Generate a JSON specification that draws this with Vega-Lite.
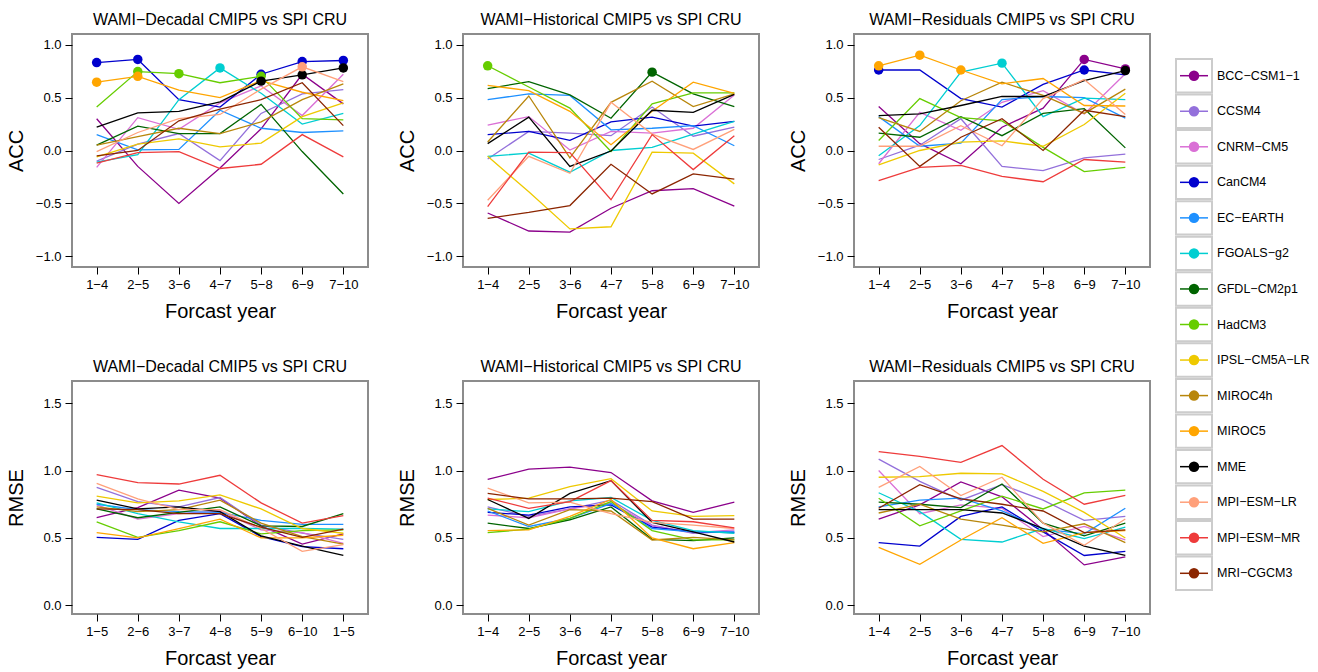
{
"$schema":"https://vega.github.io/schema/vega-lite/v6.json",
"padding":{"left":5,"top":11,"right":0,"bottom":0},
"config":{
 "font":"Liberation Sans",
 "view":{"stroke":"#8c8c8c","strokeWidth":2},
 "axis":{"domain":false,"grid":false,"tickColor":"black","tickSize":7,"tickWidth":1,"labelColor":"black","labelFontSize":13,"labelPadding":4,"titleFontSize":20,"titleFontWeight":"normal","titleColor":"black","labelFont":"Liberation Sans","titleFont":"Liberation Sans"},
 "axisY":{"minExtent":36,"maxExtent":36,"titlePadding":10},
 "axisX":{"titlePadding":10,"labelAngle":0,"labelOverlap":false},
 "title":{"fontSize":16,"fontWeight":"normal","color":"black","offset":6,"font":"Liberation Sans"}
},
"datasets":{
"leg":[{"m":"BCC−CSM1−1"},{"m":"CCSM4"},{"m":"CNRM−CM5"},{"m":"CanCM4"},{"m":"EC−EARTH"},{"m":"FGOALS−g2"},{"m":"GFDL−CM2p1"},{"m":"HadCM3"},{"m":"IPSL−CM5A−LR"},{"m":"MIROC4h"},{"m":"MIROC5"},{"m":"MME"},{"m":"MPI−ESM−LR"},{"m":"MPI−ESM−MR"},{"m":"MRI−CGCM3"}],
"d":[
{"p":"a","m":"BCC−CSM1−1","i":1,"v":0.30},{"p":"a","m":"BCC−CSM1−1","i":2,"v":-0.15},{"p":"a","m":"BCC−CSM1−1","i":3,"v":-0.50},{"p":"a","m":"BCC−CSM1−1","i":4,"v":-0.165},{"p":"a","m":"BCC−CSM1−1","i":5,"v":0.205},{"p":"a","m":"BCC−CSM1−1","i":6,"v":0.72},{"p":"a","m":"BCC−CSM1−1","i":7,"v":0.44},
{"p":"a","m":"CCSM4","i":1,"v":-0.10},{"p":"a","m":"CCSM4","i":2,"v":0.06},{"p":"a","m":"CCSM4","i":3,"v":0.16},{"p":"a","m":"CCSM4","i":4,"v":-0.095},{"p":"a","m":"CCSM4","i":5,"v":0.35},{"p":"a","m":"CCSM4","i":6,"v":0.535},{"p":"a","m":"CCSM4","i":7,"v":0.575},
{"p":"a","m":"CNRM−CM5","i":1,"v":-0.16},{"p":"a","m":"CNRM−CM5","i":2,"v":0.31},{"p":"a","m":"CNRM−CM5","i":3,"v":0.20},{"p":"a","m":"CNRM−CM5","i":4,"v":0.45},{"p":"a","m":"CNRM−CM5","i":5,"v":0.61},{"p":"a","m":"CNRM−CM5","i":6,"v":0.33},{"p":"a","m":"CNRM−CM5","i":7,"v":0.72},
{"p":"a","m":"CanCM4","i":1,"v":0.83,"s":1},{"p":"a","m":"CanCM4","i":2,"v":0.86,"s":1},{"p":"a","m":"CanCM4","i":3,"v":0.48},{"p":"a","m":"CanCM4","i":4,"v":0.41},{"p":"a","m":"CanCM4","i":5,"v":0.72,"s":1},{"p":"a","m":"CanCM4","i":6,"v":0.84,"s":1},{"p":"a","m":"CanCM4","i":7,"v":0.85,"s":1},
{"p":"a","m":"EC−EARTH","i":1,"v":0.15},{"p":"a","m":"EC−EARTH","i":2,"v":0.005},{"p":"a","m":"EC−EARTH","i":3,"v":0.01},{"p":"a","m":"EC−EARTH","i":4,"v":0.38},{"p":"a","m":"EC−EARTH","i":5,"v":0.21},{"p":"a","m":"EC−EARTH","i":6,"v":0.17},{"p":"a","m":"EC−EARTH","i":7,"v":0.185},
{"p":"a","m":"FGOALS−g2","i":1,"v":-0.11},{"p":"a","m":"FGOALS−g2","i":2,"v":-0.04},{"p":"a","m":"FGOALS−g2","i":3,"v":0.48},{"p":"a","m":"FGOALS−g2","i":4,"v":0.78,"s":1},{"p":"a","m":"FGOALS−g2","i":5,"v":0.54},{"p":"a","m":"FGOALS−g2","i":6,"v":0.25},{"p":"a","m":"FGOALS−g2","i":7,"v":0.35},
{"p":"a","m":"GFDL−CM2p1","i":1,"v":0.05},{"p":"a","m":"GFDL−CM2p1","i":2,"v":0.23},{"p":"a","m":"GFDL−CM2p1","i":3,"v":0.16},{"p":"a","m":"GFDL−CM2p1","i":4,"v":0.16},{"p":"a","m":"GFDL−CM2p1","i":5,"v":0.435},{"p":"a","m":"GFDL−CM2p1","i":6,"v":-0.01},{"p":"a","m":"GFDL−CM2p1","i":7,"v":-0.41},
{"p":"a","m":"HadCM3","i":1,"v":0.41},{"p":"a","m":"HadCM3","i":2,"v":0.745,"s":1},{"p":"a","m":"HadCM3","i":3,"v":0.725,"s":1},{"p":"a","m":"HadCM3","i":4,"v":0.64},{"p":"a","m":"HadCM3","i":5,"v":0.70,"s":1},{"p":"a","m":"HadCM3","i":6,"v":0.30},{"p":"a","m":"HadCM3","i":7,"v":0.29},
{"p":"a","m":"IPSL−CM5A−LR","i":1,"v":-0.06},{"p":"a","m":"IPSL−CM5A−LR","i":2,"v":0.06},{"p":"a","m":"IPSL−CM5A−LR","i":3,"v":0.11},{"p":"a","m":"IPSL−CM5A−LR","i":4,"v":0.035},{"p":"a","m":"IPSL−CM5A−LR","i":5,"v":0.07},{"p":"a","m":"IPSL−CM5A−LR","i":6,"v":0.32},{"p":"a","m":"IPSL−CM5A−LR","i":7,"v":0.45},
{"p":"a","m":"MIROC4h","i":1,"v":0.05},{"p":"a","m":"MIROC4h","i":2,"v":0.13},{"p":"a","m":"MIROC4h","i":3,"v":0.21},{"p":"a","m":"MIROC4h","i":4,"v":0.16},{"p":"a","m":"MIROC4h","i":5,"v":0.27},{"p":"a","m":"MIROC4h","i":6,"v":0.48},{"p":"a","m":"MIROC4h","i":7,"v":0.63},
{"p":"a","m":"MIROC5","i":1,"v":0.645,"s":1},{"p":"a","m":"MIROC5","i":2,"v":0.70,"s":1},{"p":"a","m":"MIROC5","i":3,"v":0.57},{"p":"a","m":"MIROC5","i":4,"v":0.50},{"p":"a","m":"MIROC5","i":5,"v":0.66},{"p":"a","m":"MIROC5","i":6,"v":0.55},{"p":"a","m":"MIROC5","i":7,"v":0.47},
{"p":"a","m":"MME","i":1,"v":0.22},{"p":"a","m":"MME","i":2,"v":0.355},{"p":"a","m":"MME","i":3,"v":0.37},{"p":"a","m":"MME","i":4,"v":0.46},{"p":"a","m":"MME","i":5,"v":0.655,"s":1},{"p":"a","m":"MME","i":6,"v":0.715,"s":1},{"p":"a","m":"MME","i":7,"v":0.78,"s":1},
{"p":"a","m":"MPI−ESM−LR","i":1,"v":-0.01},{"p":"a","m":"MPI−ESM−LR","i":2,"v":0.17},{"p":"a","m":"MPI−ESM−LR","i":3,"v":0.30},{"p":"a","m":"MPI−ESM−LR","i":4,"v":0.34},{"p":"a","m":"MPI−ESM−LR","i":5,"v":0.58},{"p":"a","m":"MPI−ESM−LR","i":6,"v":0.79,"s":1},{"p":"a","m":"MPI−ESM−LR","i":7,"v":0.65},
{"p":"a","m":"MPI−ESM−MR","i":1,"v":-0.12},{"p":"a","m":"MPI−ESM−MR","i":2,"v":-0.02},{"p":"a","m":"MPI−ESM−MR","i":3,"v":-0.01},{"p":"a","m":"MPI−ESM−MR","i":4,"v":-0.17},{"p":"a","m":"MPI−ESM−MR","i":5,"v":-0.13},{"p":"a","m":"MPI−ESM−MR","i":6,"v":0.15},{"p":"a","m":"MPI−ESM−MR","i":7,"v":-0.06},
{"p":"a","m":"MRI−CGCM3","i":1,"v":-0.05},{"p":"a","m":"MRI−CGCM3","i":2,"v":0.0},{"p":"a","m":"MRI−CGCM3","i":3,"v":0.28},{"p":"a","m":"MRI−CGCM3","i":4,"v":0.39},{"p":"a","m":"MRI−CGCM3","i":5,"v":0.48},{"p":"a","m":"MRI−CGCM3","i":6,"v":0.64},{"p":"a","m":"MRI−CGCM3","i":7,"v":0.235},

{"p":"b","m":"BCC−CSM1−1","i":1,"v":-0.59},{"p":"b","m":"BCC−CSM1−1","i":2,"v":-0.76},{"p":"b","m":"BCC−CSM1−1","i":3,"v":-0.77},{"p":"b","m":"BCC−CSM1−1","i":4,"v":-0.545},{"p":"b","m":"BCC−CSM1−1","i":5,"v":-0.38},{"p":"b","m":"BCC−CSM1−1","i":6,"v":-0.36},{"p":"b","m":"BCC−CSM1−1","i":7,"v":-0.525},
{"p":"b","m":"CCSM4","i":1,"v":-0.08},{"p":"b","m":"CCSM4","i":2,"v":0.18},{"p":"b","m":"CCSM4","i":3,"v":0.165},{"p":"b","m":"CCSM4","i":4,"v":0.14},{"p":"b","m":"CCSM4","i":5,"v":0.41},{"p":"b","m":"CCSM4","i":6,"v":0.135},{"p":"b","m":"CCSM4","i":7,"v":0.22},
{"p":"b","m":"CNRM−CM5","i":1,"v":0.24},{"p":"b","m":"CNRM−CM5","i":2,"v":0.32},{"p":"b","m":"CNRM−CM5","i":3,"v":0.005},{"p":"b","m":"CNRM−CM5","i":4,"v":0.18},{"p":"b","m":"CNRM−CM5","i":5,"v":0.165},{"p":"b","m":"CNRM−CM5","i":6,"v":0.21},{"p":"b","m":"CNRM−CM5","i":7,"v":0.525},
{"p":"b","m":"CanCM4","i":1,"v":0.15},{"p":"b","m":"CanCM4","i":2,"v":0.18},{"p":"b","m":"CanCM4","i":3,"v":0.095},{"p":"b","m":"CanCM4","i":4,"v":0.27},{"p":"b","m":"CanCM4","i":5,"v":0.315},{"p":"b","m":"CanCM4","i":6,"v":0.23},{"p":"b","m":"CanCM4","i":7,"v":0.275},
{"p":"b","m":"EC−EARTH","i":1,"v":0.48},{"p":"b","m":"EC−EARTH","i":2,"v":0.535},{"p":"b","m":"EC−EARTH","i":3,"v":0.52},{"p":"b","m":"EC−EARTH","i":4,"v":0.195},{"p":"b","m":"EC−EARTH","i":5,"v":0.21},{"p":"b","m":"EC−EARTH","i":6,"v":0.235},{"p":"b","m":"EC−EARTH","i":7,"v":0.045},
{"p":"b","m":"FGOALS−g2","i":1,"v":-0.055},{"p":"b","m":"FGOALS−g2","i":2,"v":-0.025},{"p":"b","m":"FGOALS−g2","i":3,"v":-0.205},{"p":"b","m":"FGOALS−g2","i":4,"v":0.0},{"p":"b","m":"FGOALS−g2","i":5,"v":0.03},{"p":"b","m":"FGOALS−g2","i":6,"v":0.155},{"p":"b","m":"FGOALS−g2","i":7,"v":0.275},
{"p":"b","m":"GFDL−CM2p1","i":1,"v":0.585},{"p":"b","m":"GFDL−CM2p1","i":2,"v":0.65},{"p":"b","m":"GFDL−CM2p1","i":3,"v":0.525},{"p":"b","m":"GFDL−CM2p1","i":4,"v":0.305},{"p":"b","m":"GFDL−CM2p1","i":5,"v":0.74,"s":1},{"p":"b","m":"GFDL−CM2p1","i":6,"v":0.535},{"p":"b","m":"GFDL−CM2p1","i":7,"v":0.415},
{"p":"b","m":"HadCM3","i":1,"v":0.80,"s":1},{"p":"b","m":"HadCM3","i":2,"v":0.60},{"p":"b","m":"HadCM3","i":3,"v":0.40},{"p":"b","m":"HadCM3","i":4,"v":-0.01},{"p":"b","m":"HadCM3","i":5,"v":0.44},{"p":"b","m":"HadCM3","i":6,"v":0.545},{"p":"b","m":"HadCM3","i":7,"v":0.545},
{"p":"b","m":"IPSL−CM5A−LR","i":1,"v":-0.055},{"p":"b","m":"IPSL−CM5A−LR","i":2,"v":-0.39},{"p":"b","m":"IPSL−CM5A−LR","i":3,"v":-0.74},{"p":"b","m":"IPSL−CM5A−LR","i":4,"v":-0.72},{"p":"b","m":"IPSL−CM5A−LR","i":5,"v":-0.015},{"p":"b","m":"IPSL−CM5A−LR","i":6,"v":-0.025},{"p":"b","m":"IPSL−CM5A−LR","i":7,"v":-0.315},
{"p":"b","m":"MIROC4h","i":1,"v":0.08},{"p":"b","m":"MIROC4h","i":2,"v":0.515},{"p":"b","m":"MIROC4h","i":3,"v":-0.07},{"p":"b","m":"MIROC4h","i":4,"v":0.455},{"p":"b","m":"MIROC4h","i":5,"v":0.655},{"p":"b","m":"MIROC4h","i":6,"v":0.415},{"p":"b","m":"MIROC4h","i":7,"v":0.535},
{"p":"b","m":"MIROC5","i":1,"v":0.615},{"p":"b","m":"MIROC5","i":2,"v":0.565},{"p":"b","m":"MIROC5","i":3,"v":0.37},{"p":"b","m":"MIROC5","i":4,"v":0.055},{"p":"b","m":"MIROC5","i":5,"v":0.37},{"p":"b","m":"MIROC5","i":6,"v":0.645},{"p":"b","m":"MIROC5","i":7,"v":0.54},
{"p":"b","m":"MME","i":1,"v":0.065},{"p":"b","m":"MME","i":2,"v":0.315},{"p":"b","m":"MME","i":3,"v":-0.15},{"p":"b","m":"MME","i":4,"v":-0.005},{"p":"b","m":"MME","i":5,"v":0.38},{"p":"b","m":"MME","i":6,"v":0.36},{"p":"b","m":"MME","i":7,"v":0.53},
{"p":"b","m":"MPI−ESM−LR","i":1,"v":-0.47},{"p":"b","m":"MPI−ESM−LR","i":2,"v":-0.055},{"p":"b","m":"MPI−ESM−LR","i":3,"v":-0.215},{"p":"b","m":"MPI−ESM−LR","i":4,"v":0.455},{"p":"b","m":"MPI−ESM−LR","i":5,"v":0.155},{"p":"b","m":"MPI−ESM−LR","i":6,"v":0.01},{"p":"b","m":"MPI−ESM−LR","i":7,"v":0.20},
{"p":"b","m":"MPI−ESM−MR","i":1,"v":-0.53},{"p":"b","m":"MPI−ESM−MR","i":2,"v":-0.015},{"p":"b","m":"MPI−ESM−MR","i":3,"v":-0.02},{"p":"b","m":"MPI−ESM−MR","i":4,"v":-0.465},{"p":"b","m":"MPI−ESM−MR","i":5,"v":0.15},{"p":"b","m":"MPI−ESM−MR","i":6,"v":-0.18},{"p":"b","m":"MPI−ESM−MR","i":7,"v":0.14},
{"p":"b","m":"MRI−CGCM3","i":1,"v":-0.64},{"p":"b","m":"MRI−CGCM3","i":2,"v":-0.585},{"p":"b","m":"MRI−CGCM3","i":3,"v":-0.52},{"p":"b","m":"MRI−CGCM3","i":4,"v":-0.13},{"p":"b","m":"MRI−CGCM3","i":5,"v":-0.41},{"p":"b","m":"MRI−CGCM3","i":6,"v":-0.22},{"p":"b","m":"MRI−CGCM3","i":7,"v":-0.27},

{"p":"c","m":"BCC−CSM1−1","i":1,"v":0.415},{"p":"c","m":"BCC−CSM1−1","i":2,"v":0.065},{"p":"c","m":"BCC−CSM1−1","i":3,"v":-0.125},{"p":"c","m":"BCC−CSM1−1","i":4,"v":0.22},{"p":"c","m":"BCC−CSM1−1","i":5,"v":0.40},{"p":"c","m":"BCC−CSM1−1","i":6,"v":0.86,"s":1},{"p":"c","m":"BCC−CSM1−1","i":7,"v":0.77,"s":1},
{"p":"c","m":"CCSM4","i":1,"v":-0.085},{"p":"c","m":"CCSM4","i":2,"v":0.05},{"p":"c","m":"CCSM4","i":3,"v":0.30},{"p":"c","m":"CCSM4","i":4,"v":-0.15},{"p":"c","m":"CCSM4","i":5,"v":-0.19},{"p":"c","m":"CCSM4","i":6,"v":-0.07},{"p":"c","m":"CCSM4","i":7,"v":-0.035},
{"p":"c","m":"CNRM−CM5","i":1,"v":-0.125},{"p":"c","m":"CNRM−CM5","i":2,"v":0.36},{"p":"c","m":"CNRM−CM5","i":3,"v":0.19},{"p":"c","m":"CNRM−CM5","i":4,"v":0.455},{"p":"c","m":"CNRM−CM5","i":5,"v":0.565},{"p":"c","m":"CNRM−CM5","i":6,"v":0.345},{"p":"c","m":"CNRM−CM5","i":7,"v":0.725},
{"p":"c","m":"CanCM4","i":1,"v":0.76,"s":1},{"p":"c","m":"CanCM4","i":2,"v":0.76},{"p":"c","m":"CanCM4","i":3,"v":0.49},{"p":"c","m":"CanCM4","i":4,"v":0.41},{"p":"c","m":"CanCM4","i":5,"v":0.625},{"p":"c","m":"CanCM4","i":6,"v":0.76,"s":1},{"p":"c","m":"CanCM4","i":7,"v":0.715},
{"p":"c","m":"EC−EARTH","i":1,"v":0.32},{"p":"c","m":"EC−EARTH","i":2,"v":0.04},{"p":"c","m":"EC−EARTH","i":3,"v":0.07},{"p":"c","m":"EC−EARTH","i":4,"v":0.48},{"p":"c","m":"EC−EARTH","i":5,"v":0.51},{"p":"c","m":"EC−EARTH","i":6,"v":0.50},{"p":"c","m":"EC−EARTH","i":7,"v":0.305},
{"p":"c","m":"FGOALS−g2","i":1,"v":-0.05},{"p":"c","m":"FGOALS−g2","i":2,"v":0.235},{"p":"c","m":"FGOALS−g2","i":3,"v":0.74},{"p":"c","m":"FGOALS−g2","i":4,"v":0.825,"s":1},{"p":"c","m":"FGOALS−g2","i":5,"v":0.32},{"p":"c","m":"FGOALS−g2","i":6,"v":0.495},{"p":"c","m":"FGOALS−g2","i":7,"v":0.48},
{"p":"c","m":"GFDL−CM2p1","i":1,"v":0.165},{"p":"c","m":"GFDL−CM2p1","i":2,"v":0.125},{"p":"c","m":"GFDL−CM2p1","i":3,"v":0.32},{"p":"c","m":"GFDL−CM2p1","i":4,"v":0.14},{"p":"c","m":"GFDL−CM2p1","i":5,"v":0.35},{"p":"c","m":"GFDL−CM2p1","i":6,"v":0.395},{"p":"c","m":"GFDL−CM2p1","i":7,"v":0.025},
{"p":"c","m":"HadCM3","i":1,"v":0.095},{"p":"c","m":"HadCM3","i":2,"v":0.49},{"p":"c","m":"HadCM3","i":3,"v":0.31},{"p":"c","m":"HadCM3","i":4,"v":0.28},{"p":"c","m":"HadCM3","i":5,"v":0.03},{"p":"c","m":"HadCM3","i":6,"v":-0.20},{"p":"c","m":"HadCM3","i":7,"v":-0.16},
{"p":"c","m":"IPSL−CM5A−LR","i":1,"v":-0.135},{"p":"c","m":"IPSL−CM5A−LR","i":2,"v":0.0},{"p":"c","m":"IPSL−CM5A−LR","i":3,"v":0.08},{"p":"c","m":"IPSL−CM5A−LR","i":4,"v":0.09},{"p":"c","m":"IPSL−CM5A−LR","i":5,"v":0.04},{"p":"c","m":"IPSL−CM5A−LR","i":6,"v":0.245},{"p":"c","m":"IPSL−CM5A−LR","i":7,"v":0.54},
{"p":"c","m":"MIROC4h","i":1,"v":0.31},{"p":"c","m":"MIROC4h","i":2,"v":0.18},{"p":"c","m":"MIROC4h","i":3,"v":0.47},{"p":"c","m":"MIROC4h","i":4,"v":0.645},{"p":"c","m":"MIROC4h","i":5,"v":0.52},{"p":"c","m":"MIROC4h","i":6,"v":0.35},{"p":"c","m":"MIROC4h","i":7,"v":0.58},
{"p":"c","m":"MIROC5","i":1,"v":0.80,"s":1},{"p":"c","m":"MIROC5","i":2,"v":0.90,"s":1},{"p":"c","m":"MIROC5","i":3,"v":0.76,"s":1},{"p":"c","m":"MIROC5","i":4,"v":0.63},{"p":"c","m":"MIROC5","i":5,"v":0.68},{"p":"c","m":"MIROC5","i":6,"v":0.425},{"p":"c","m":"MIROC5","i":7,"v":0.42},
{"p":"c","m":"MME","i":1,"v":0.33},{"p":"c","m":"MME","i":2,"v":0.345},{"p":"c","m":"MME","i":3,"v":0.425},{"p":"c","m":"MME","i":4,"v":0.51},{"p":"c","m":"MME","i":5,"v":0.51},{"p":"c","m":"MME","i":6,"v":0.66},{"p":"c","m":"MME","i":7,"v":0.755,"s":1},
{"p":"c","m":"MPI−ESM−LR","i":1,"v":0.04},{"p":"c","m":"MPI−ESM−LR","i":2,"v":0.04},{"p":"c","m":"MPI−ESM−LR","i":3,"v":0.235},{"p":"c","m":"MPI−ESM−LR","i":4,"v":0.045},{"p":"c","m":"MPI−ESM−LR","i":5,"v":0.49},{"p":"c","m":"MPI−ESM−LR","i":6,"v":0.67},{"p":"c","m":"MPI−ESM−LR","i":7,"v":0.34},
{"p":"c","m":"MPI−ESM−MR","i":1,"v":-0.285},{"p":"c","m":"MPI−ESM−MR","i":2,"v":-0.16},{"p":"c","m":"MPI−ESM−MR","i":3,"v":-0.14},{"p":"c","m":"MPI−ESM−MR","i":4,"v":-0.245},{"p":"c","m":"MPI−ESM−MR","i":5,"v":-0.295},{"p":"c","m":"MPI−ESM−MR","i":6,"v":-0.085},{"p":"c","m":"MPI−ESM−MR","i":7,"v":-0.11},
{"p":"c","m":"MRI−CGCM3","i":1,"v":0.22},{"p":"c","m":"MRI−CGCM3","i":2,"v":-0.15},{"p":"c","m":"MRI−CGCM3","i":3,"v":0.125},{"p":"c","m":"MRI−CGCM3","i":4,"v":0.30},{"p":"c","m":"MRI−CGCM3","i":5,"v":0.0},{"p":"c","m":"MRI−CGCM3","i":6,"v":0.38},{"p":"c","m":"MRI−CGCM3","i":7,"v":0.32},

{"p":"d","m":"BCC−CSM1−1","i":1,"v":0.65},{"p":"d","m":"BCC−CSM1−1","i":2,"v":0.725},{"p":"d","m":"BCC−CSM1−1","i":3,"v":0.855},{"p":"d","m":"BCC−CSM1−1","i":4,"v":0.795},{"p":"d","m":"BCC−CSM1−1","i":5,"v":0.59},{"p":"d","m":"BCC−CSM1−1","i":6,"v":0.455},{"p":"d","m":"BCC−CSM1−1","i":7,"v":0.53},
{"p":"d","m":"CCSM4","i":1,"v":0.875},{"p":"d","m":"CCSM4","i":2,"v":0.77},{"p":"d","m":"CCSM4","i":3,"v":0.73},{"p":"d","m":"CCSM4","i":4,"v":0.80},{"p":"d","m":"CCSM4","i":5,"v":0.595},{"p":"d","m":"CCSM4","i":6,"v":0.535},{"p":"d","m":"CCSM4","i":7,"v":0.49},
{"p":"d","m":"CNRM−CM5","i":1,"v":0.745},{"p":"d","m":"CNRM−CM5","i":2,"v":0.64},{"p":"d","m":"CNRM−CM5","i":3,"v":0.68},{"p":"d","m":"CNRM−CM5","i":4,"v":0.70},{"p":"d","m":"CNRM−CM5","i":5,"v":0.56},{"p":"d","m":"CNRM−CM5","i":6,"v":0.54},{"p":"d","m":"CNRM−CM5","i":7,"v":0.46},
{"p":"d","m":"CanCM4","i":1,"v":0.505},{"p":"d","m":"CanCM4","i":2,"v":0.49},{"p":"d","m":"CanCM4","i":3,"v":0.63},{"p":"d","m":"CanCM4","i":4,"v":0.68},{"p":"d","m":"CanCM4","i":5,"v":0.51},{"p":"d","m":"CanCM4","i":6,"v":0.435},{"p":"d","m":"CanCM4","i":7,"v":0.42},
{"p":"d","m":"EC−EARTH","i":1,"v":0.75},{"p":"d","m":"EC−EARTH","i":2,"v":0.71},{"p":"d","m":"EC−EARTH","i":3,"v":0.695},{"p":"d","m":"EC−EARTH","i":4,"v":0.69},{"p":"d","m":"EC−EARTH","i":5,"v":0.63},{"p":"d","m":"EC−EARTH","i":6,"v":0.60},{"p":"d","m":"EC−EARTH","i":7,"v":0.60},
{"p":"d","m":"FGOALS−g2","i":1,"v":0.76},{"p":"d","m":"FGOALS−g2","i":2,"v":0.68},{"p":"d","m":"FGOALS−g2","i":3,"v":0.62},{"p":"d","m":"FGOALS−g2","i":4,"v":0.57},{"p":"d","m":"FGOALS−g2","i":5,"v":0.57},{"p":"d","m":"FGOALS−g2","i":6,"v":0.57},{"p":"d","m":"FGOALS−g2","i":7,"v":0.565},
{"p":"d","m":"GFDL−CM2p1","i":1,"v":0.715},{"p":"d","m":"GFDL−CM2p1","i":2,"v":0.65},{"p":"d","m":"GFDL−CM2p1","i":3,"v":0.69},{"p":"d","m":"GFDL−CM2p1","i":4,"v":0.73},{"p":"d","m":"GFDL−CM2p1","i":5,"v":0.59},{"p":"d","m":"GFDL−CM2p1","i":6,"v":0.585},{"p":"d","m":"GFDL−CM2p1","i":7,"v":0.68},
{"p":"d","m":"HadCM3","i":1,"v":0.62},{"p":"d","m":"HadCM3","i":2,"v":0.505},{"p":"d","m":"HadCM3","i":3,"v":0.555},{"p":"d","m":"HadCM3","i":4,"v":0.62},{"p":"d","m":"HadCM3","i":5,"v":0.53},{"p":"d","m":"HadCM3","i":6,"v":0.555},{"p":"d","m":"HadCM3","i":7,"v":0.56},
{"p":"d","m":"IPSL−CM5A−LR","i":1,"v":0.81},{"p":"d","m":"IPSL−CM5A−LR","i":2,"v":0.76},{"p":"d","m":"IPSL−CM5A−LR","i":3,"v":0.775},{"p":"d","m":"IPSL−CM5A−LR","i":4,"v":0.82},{"p":"d","m":"IPSL−CM5A−LR","i":5,"v":0.715},{"p":"d","m":"IPSL−CM5A−LR","i":6,"v":0.57},{"p":"d","m":"IPSL−CM5A−LR","i":7,"v":0.535},
{"p":"d","m":"MIROC4h","i":1,"v":0.73},{"p":"d","m":"MIROC4h","i":2,"v":0.695},{"p":"d","m":"MIROC4h","i":3,"v":0.71},{"p":"d","m":"MIROC4h","i":4,"v":0.78},{"p":"d","m":"MIROC4h","i":5,"v":0.61},{"p":"d","m":"MIROC4h","i":6,"v":0.51},{"p":"d","m":"MIROC4h","i":7,"v":0.455},
{"p":"d","m":"MIROC5","i":1,"v":0.54},{"p":"d","m":"MIROC5","i":2,"v":0.50},{"p":"d","m":"MIROC5","i":3,"v":0.57},{"p":"d","m":"MIROC5","i":4,"v":0.64},{"p":"d","m":"MIROC5","i":5,"v":0.50},{"p":"d","m":"MIROC5","i":6,"v":0.50},{"p":"d","m":"MIROC5","i":7,"v":0.52},
{"p":"d","m":"MME","i":1,"v":0.78},{"p":"d","m":"MME","i":2,"v":0.715},{"p":"d","m":"MME","i":3,"v":0.73},{"p":"d","m":"MME","i":4,"v":0.695},{"p":"d","m":"MME","i":5,"v":0.515},{"p":"d","m":"MME","i":6,"v":0.44},{"p":"d","m":"MME","i":7,"v":0.37},
{"p":"d","m":"MPI−ESM−LR","i":1,"v":0.905},{"p":"d","m":"MPI−ESM−LR","i":2,"v":0.79},{"p":"d","m":"MPI−ESM−LR","i":3,"v":0.71},{"p":"d","m":"MPI−ESM−LR","i":4,"v":0.71},{"p":"d","m":"MPI−ESM−LR","i":5,"v":0.57},{"p":"d","m":"MPI−ESM−LR","i":6,"v":0.40},{"p":"d","m":"MPI−ESM−LR","i":7,"v":0.45},
{"p":"d","m":"MPI−ESM−MR","i":1,"v":0.97},{"p":"d","m":"MPI−ESM−MR","i":2,"v":0.91},{"p":"d","m":"MPI−ESM−MR","i":3,"v":0.90},{"p":"d","m":"MPI−ESM−MR","i":4,"v":0.965},{"p":"d","m":"MPI−ESM−MR","i":5,"v":0.76},{"p":"d","m":"MPI−ESM−MR","i":6,"v":0.61},{"p":"d","m":"MPI−ESM−MR","i":7,"v":0.665},
{"p":"d","m":"MRI−CGCM3","i":1,"v":0.715},{"p":"d","m":"MRI−CGCM3","i":2,"v":0.71},{"p":"d","m":"MRI−CGCM3","i":3,"v":0.68},{"p":"d","m":"MRI−CGCM3","i":4,"v":0.68},{"p":"d","m":"MRI−CGCM3","i":5,"v":0.58},{"p":"d","m":"MRI−CGCM3","i":6,"v":0.505},{"p":"d","m":"MRI−CGCM3","i":7,"v":0.565},

{"p":"e","m":"BCC−CSM1−1","i":1,"v":0.935},{"p":"e","m":"BCC−CSM1−1","i":2,"v":1.01},{"p":"e","m":"BCC−CSM1−1","i":3,"v":1.025},{"p":"e","m":"BCC−CSM1−1","i":4,"v":0.985},{"p":"e","m":"BCC−CSM1−1","i":5,"v":0.775},{"p":"e","m":"BCC−CSM1−1","i":6,"v":0.69},{"p":"e","m":"BCC−CSM1−1","i":7,"v":0.765},
{"p":"e","m":"CCSM4","i":1,"v":0.73},{"p":"e","m":"CCSM4","i":2,"v":0.66},{"p":"e","m":"CCSM4","i":3,"v":0.715},{"p":"e","m":"CCSM4","i":4,"v":0.78},{"p":"e","m":"CCSM4","i":5,"v":0.595},{"p":"e","m":"CCSM4","i":6,"v":0.535},{"p":"e","m":"CCSM4","i":7,"v":0.55},
{"p":"e","m":"CNRM−CM5","i":1,"v":0.67},{"p":"e","m":"CNRM−CM5","i":2,"v":0.65},{"p":"e","m":"CNRM−CM5","i":3,"v":0.715},{"p":"e","m":"CNRM−CM5","i":4,"v":0.76},{"p":"e","m":"CNRM−CM5","i":5,"v":0.59},{"p":"e","m":"CNRM−CM5","i":6,"v":0.54},{"p":"e","m":"CNRM−CM5","i":7,"v":0.56},
{"p":"e","m":"CanCM4","i":1,"v":0.69},{"p":"e","m":"CanCM4","i":2,"v":0.67},{"p":"e","m":"CanCM4","i":3,"v":0.73},{"p":"e","m":"CanCM4","i":4,"v":0.745},{"p":"e","m":"CanCM4","i":5,"v":0.58},{"p":"e","m":"CanCM4","i":6,"v":0.545},{"p":"e","m":"CanCM4","i":7,"v":0.54},
{"p":"e","m":"EC−EARTH","i":1,"v":0.70},{"p":"e","m":"EC−EARTH","i":2,"v":0.585},{"p":"e","m":"EC−EARTH","i":3,"v":0.645},{"p":"e","m":"EC−EARTH","i":4,"v":0.755},{"p":"e","m":"EC−EARTH","i":5,"v":0.57},{"p":"e","m":"EC−EARTH","i":6,"v":0.545},{"p":"e","m":"EC−EARTH","i":7,"v":0.545},
{"p":"e","m":"FGOALS−g2","i":1,"v":0.715},{"p":"e","m":"FGOALS−g2","i":2,"v":0.695},{"p":"e","m":"FGOALS−g2","i":3,"v":0.775},{"p":"e","m":"FGOALS−g2","i":4,"v":0.80},{"p":"e","m":"FGOALS−g2","i":5,"v":0.63},{"p":"e","m":"FGOALS−g2","i":6,"v":0.555},{"p":"e","m":"FGOALS−g2","i":7,"v":0.535},
{"p":"e","m":"GFDL−CM2p1","i":1,"v":0.61},{"p":"e","m":"GFDL−CM2p1","i":2,"v":0.57},{"p":"e","m":"GFDL−CM2p1","i":3,"v":0.635},{"p":"e","m":"GFDL−CM2p1","i":4,"v":0.73},{"p":"e","m":"GFDL−CM2p1","i":5,"v":0.49},{"p":"e","m":"GFDL−CM2p1","i":6,"v":0.48},{"p":"e","m":"GFDL−CM2p1","i":7,"v":0.50},
{"p":"e","m":"HadCM3","i":1,"v":0.54},{"p":"e","m":"HadCM3","i":2,"v":0.565},{"p":"e","m":"HadCM3","i":3,"v":0.645},{"p":"e","m":"HadCM3","i":4,"v":0.77},{"p":"e","m":"HadCM3","i":5,"v":0.555},{"p":"e","m":"HadCM3","i":6,"v":0.485},{"p":"e","m":"HadCM3","i":7,"v":0.485},
{"p":"e","m":"IPSL−CM5A−LR","i":1,"v":0.785},{"p":"e","m":"IPSL−CM5A−LR","i":2,"v":0.795},{"p":"e","m":"IPSL−CM5A−LR","i":3,"v":0.88},{"p":"e","m":"IPSL−CM5A−LR","i":4,"v":0.94},{"p":"e","m":"IPSL−CM5A−LR","i":5,"v":0.70},{"p":"e","m":"IPSL−CM5A−LR","i":6,"v":0.66},{"p":"e","m":"IPSL−CM5A−LR","i":7,"v":0.665},
{"p":"e","m":"MIROC4h","i":1,"v":0.72},{"p":"e","m":"MIROC4h","i":2,"v":0.595},{"p":"e","m":"MIROC4h","i":3,"v":0.71},{"p":"e","m":"MIROC4h","i":4,"v":0.70},{"p":"e","m":"MIROC4h","i":5,"v":0.485},{"p":"e","m":"MIROC4h","i":6,"v":0.505},{"p":"e","m":"MIROC4h","i":7,"v":0.485},
{"p":"e","m":"MIROC5","i":1,"v":0.555},{"p":"e","m":"MIROC5","i":2,"v":0.56},{"p":"e","m":"MIROC5","i":3,"v":0.66},{"p":"e","m":"MIROC5","i":4,"v":0.785},{"p":"e","m":"MIROC5","i":5,"v":0.50},{"p":"e","m":"MIROC5","i":6,"v":0.42},{"p":"e","m":"MIROC5","i":7,"v":0.465},
{"p":"e","m":"MME","i":1,"v":0.785},{"p":"e","m":"MME","i":2,"v":0.645},{"p":"e","m":"MME","i":3,"v":0.83},{"p":"e","m":"MME","i":4,"v":0.925},{"p":"e","m":"MME","i":5,"v":0.615},{"p":"e","m":"MME","i":6,"v":0.545},{"p":"e","m":"MME","i":7,"v":0.47},
{"p":"e","m":"MPI−ESM−LR","i":1,"v":0.87},{"p":"e","m":"MPI−ESM−LR","i":2,"v":0.76},{"p":"e","m":"MPI−ESM−LR","i":3,"v":0.765},{"p":"e","m":"MPI−ESM−LR","i":4,"v":0.68},{"p":"e","m":"MPI−ESM−LR","i":5,"v":0.615},{"p":"e","m":"MPI−ESM−LR","i":6,"v":0.595},{"p":"e","m":"MPI−ESM−LR","i":7,"v":0.57},
{"p":"e","m":"MPI−ESM−MR","i":1,"v":0.795},{"p":"e","m":"MPI−ESM−MR","i":2,"v":0.72},{"p":"e","m":"MPI−ESM−MR","i":3,"v":0.77},{"p":"e","m":"MPI−ESM−MR","i":4,"v":0.925},{"p":"e","m":"MPI−ESM−MR","i":5,"v":0.63},{"p":"e","m":"MPI−ESM−MR","i":6,"v":0.62},{"p":"e","m":"MPI−ESM−MR","i":7,"v":0.575},
{"p":"e","m":"MRI−CGCM3","i":1,"v":0.83},{"p":"e","m":"MRI−CGCM3","i":2,"v":0.79},{"p":"e","m":"MRI−CGCM3","i":3,"v":0.79},{"p":"e","m":"MRI−CGCM3","i":4,"v":0.795},{"p":"e","m":"MRI−CGCM3","i":5,"v":0.77},{"p":"e","m":"MRI−CGCM3","i":6,"v":0.64},{"p":"e","m":"MRI−CGCM3","i":7,"v":0.64},

{"p":"f","m":"BCC−CSM1−1","i":1,"v":0.64},{"p":"f","m":"BCC−CSM1−1","i":2,"v":0.745},{"p":"f","m":"BCC−CSM1−1","i":3,"v":0.915},{"p":"f","m":"BCC−CSM1−1","i":4,"v":0.805},{"p":"f","m":"BCC−CSM1−1","i":5,"v":0.56},{"p":"f","m":"BCC−CSM1−1","i":6,"v":0.30},{"p":"f","m":"BCC−CSM1−1","i":7,"v":0.36},
{"p":"f","m":"CCSM4","i":1,"v":1.085},{"p":"f","m":"CCSM4","i":2,"v":0.92},{"p":"f","m":"CCSM4","i":3,"v":0.78},{"p":"f","m":"CCSM4","i":4,"v":0.895},{"p":"f","m":"CCSM4","i":5,"v":0.78},{"p":"f","m":"CCSM4","i":6,"v":0.63},{"p":"f","m":"CCSM4","i":7,"v":0.66},
{"p":"f","m":"CNRM−CM5","i":1,"v":1.0},{"p":"f","m":"CNRM−CM5","i":2,"v":0.68},{"p":"f","m":"CNRM−CM5","i":3,"v":0.745},{"p":"f","m":"CNRM−CM5","i":4,"v":0.72},{"p":"f","m":"CNRM−CM5","i":5,"v":0.51},{"p":"f","m":"CNRM−CM5","i":6,"v":0.585},{"p":"f","m":"CNRM−CM5","i":7,"v":0.485},
{"p":"f","m":"CanCM4","i":1,"v":0.465},{"p":"f","m":"CanCM4","i":2,"v":0.44},{"p":"f","m":"CanCM4","i":3,"v":0.66},{"p":"f","m":"CanCM4","i":4,"v":0.73},{"p":"f","m":"CanCM4","i":5,"v":0.545},{"p":"f","m":"CanCM4","i":6,"v":0.37},{"p":"f","m":"CanCM4","i":7,"v":0.40},
{"p":"f","m":"EC−EARTH","i":1,"v":0.73},{"p":"f","m":"EC−EARTH","i":2,"v":0.78},{"p":"f","m":"EC−EARTH","i":3,"v":0.795},{"p":"f","m":"EC−EARTH","i":4,"v":0.70},{"p":"f","m":"EC−EARTH","i":5,"v":0.565},{"p":"f","m":"EC−EARTH","i":6,"v":0.53},{"p":"f","m":"EC−EARTH","i":7,"v":0.72},
{"p":"f","m":"FGOALS−g2","i":1,"v":0.835},{"p":"f","m":"FGOALS−g2","i":2,"v":0.695},{"p":"f","m":"FGOALS−g2","i":3,"v":0.49},{"p":"f","m":"FGOALS−g2","i":4,"v":0.47},{"p":"f","m":"FGOALS−g2","i":5,"v":0.57},{"p":"f","m":"FGOALS−g2","i":6,"v":0.495},{"p":"f","m":"FGOALS−g2","i":7,"v":0.58},
{"p":"f","m":"GFDL−CM2p1","i":1,"v":0.765},{"p":"f","m":"GFDL−CM2p1","i":2,"v":0.75},{"p":"f","m":"GFDL−CM2p1","i":3,"v":0.725},{"p":"f","m":"GFDL−CM2p1","i":4,"v":0.90},{"p":"f","m":"GFDL−CM2p1","i":5,"v":0.61},{"p":"f","m":"GFDL−CM2p1","i":6,"v":0.515},{"p":"f","m":"GFDL−CM2p1","i":7,"v":0.61},
{"p":"f","m":"HadCM3","i":1,"v":0.795},{"p":"f","m":"HadCM3","i":2,"v":0.59},{"p":"f","m":"HadCM3","i":3,"v":0.70},{"p":"f","m":"HadCM3","i":4,"v":0.81},{"p":"f","m":"HadCM3","i":5,"v":0.715},{"p":"f","m":"HadCM3","i":6,"v":0.835},{"p":"f","m":"HadCM3","i":7,"v":0.855},
{"p":"f","m":"IPSL−CM5A−LR","i":1,"v":0.95},{"p":"f","m":"IPSL−CM5A−LR","i":2,"v":0.955},{"p":"f","m":"IPSL−CM5A−LR","i":3,"v":0.98},{"p":"f","m":"IPSL−CM5A−LR","i":4,"v":0.975},{"p":"f","m":"IPSL−CM5A−LR","i":5,"v":0.845},{"p":"f","m":"IPSL−CM5A−LR","i":6,"v":0.69},{"p":"f","m":"IPSL−CM5A−LR","i":7,"v":0.50},
{"p":"f","m":"MIROC4h","i":1,"v":0.685},{"p":"f","m":"MIROC4h","i":2,"v":0.75},{"p":"f","m":"MIROC4h","i":3,"v":0.64},{"p":"f","m":"MIROC4h","i":4,"v":0.595},{"p":"f","m":"MIROC4h","i":5,"v":0.545},{"p":"f","m":"MIROC4h","i":6,"v":0.605},{"p":"f","m":"MIROC4h","i":7,"v":0.465},
{"p":"f","m":"MIROC5","i":1,"v":0.43},{"p":"f","m":"MIROC5","i":2,"v":0.305},{"p":"f","m":"MIROC5","i":3,"v":0.485},{"p":"f","m":"MIROC5","i":4,"v":0.65},{"p":"f","m":"MIROC5","i":5,"v":0.46},{"p":"f","m":"MIROC5","i":6,"v":0.54},{"p":"f","m":"MIROC5","i":7,"v":0.555},
{"p":"f","m":"MME","i":1,"v":0.71},{"p":"f","m":"MME","i":2,"v":0.71},{"p":"f","m":"MME","i":3,"v":0.71},{"p":"f","m":"MME","i":4,"v":0.685},{"p":"f","m":"MME","i":5,"v":0.57},{"p":"f","m":"MME","i":6,"v":0.44},{"p":"f","m":"MME","i":7,"v":0.37},
{"p":"f","m":"MPI−ESM−LR","i":1,"v":0.875},{"p":"f","m":"MPI−ESM−LR","i":2,"v":1.03},{"p":"f","m":"MPI−ESM−LR","i":3,"v":0.815},{"p":"f","m":"MPI−ESM−LR","i":4,"v":0.95},{"p":"f","m":"MPI−ESM−LR","i":5,"v":0.61},{"p":"f","m":"MPI−ESM−LR","i":6,"v":0.445},{"p":"f","m":"MPI−ESM−LR","i":7,"v":0.64},
{"p":"f","m":"MPI−ESM−MR","i":1,"v":1.14},{"p":"f","m":"MPI−ESM−MR","i":2,"v":1.105},{"p":"f","m":"MPI−ESM−MR","i":3,"v":1.06},{"p":"f","m":"MPI−ESM−MR","i":4,"v":1.185},{"p":"f","m":"MPI−ESM−MR","i":5,"v":0.935},{"p":"f","m":"MPI−ESM−MR","i":6,"v":0.75},{"p":"f","m":"MPI−ESM−MR","i":7,"v":0.815},
{"p":"f","m":"MRI−CGCM3","i":1,"v":0.72},{"p":"f","m":"MRI−CGCM3","i":2,"v":0.895},{"p":"f","m":"MRI−CGCM3","i":3,"v":0.79},{"p":"f","m":"MRI−CGCM3","i":4,"v":0.75},{"p":"f","m":"MRI−CGCM3","i":5,"v":0.70},{"p":"f","m":"MRI−CGCM3","i":6,"v":0.54},{"p":"f","m":"MRI−CGCM3","i":7,"v":0.56}
]},
"hconcat":[
{"vconcat":[
 {"hconcat":[
  {"width":296,"height":233,"title":"WAMI−Decadal CMIP5 vs SPI CRU","data":{"name":"d"},"transform":[{"filter":"datum.p=='a'"}],
   "encoding":{"x":{"field":"i","type":"ordinal","scale":{"type":"point","padding":0.6},"axis":{"title":"Forcast year","labelExpr":"['1−4','2−5','3−6','4−7','5−8','6−9','7−10'][datum.value-1]"}},
    "y":{"field":"v","type":"quantitative","scale":{"domain":[-1.1,1.1],"nice":false,"zero":false},"axis":{"title":"ACC","values":[-1,-0.5,0,0.5,1],"format":".1f"}},
    "color":{"field":"m","type":"nominal","legend":null,"scale":{"domain":["BCC−CSM1−1","CCSM4","CNRM−CM5","CanCM4","EC−EARTH","FGOALS−g2","GFDL−CM2p1","HadCM3","IPSL−CM5A−LR","MIROC4h","MIROC5","MME","MPI−ESM−LR","MPI−ESM−MR","MRI−CGCM3"],"range":["#8B008B","#9370DB","#DA70D6","#0000CD","#1E90FF","#00CED1","#006400","#66CD00","#EEC900","#B8860B","#FFA500","#000000","#FFA07A","#EE3B3B","#8B2500"]}}},
   "layer":[{"mark":{"type":"line","strokeWidth":1.3}},{"transform":[{"filter":"datum.s==1"}],"mark":{"type":"point","filled":true,"size":90,"opacity":1}}]},
  {"width":296,"height":233,"title":"WAMI−Historical CMIP5 vs SPI CRU","data":{"name":"d"},"transform":[{"filter":"datum.p=='b'"}],
   "encoding":{"x":{"field":"i","type":"ordinal","scale":{"type":"point","padding":0.6},"axis":{"title":"Forcast year","labelExpr":"['1−4','2−5','3−6','4−7','5−8','6−9','7−10'][datum.value-1]"}},
    "y":{"field":"v","type":"quantitative","scale":{"domain":[-1.1,1.1],"nice":false,"zero":false},"axis":{"title":"ACC","values":[-1,-0.5,0,0.5,1],"format":".1f"}},
    "color":{"field":"m","type":"nominal","legend":null,"scale":{"domain":["BCC−CSM1−1","CCSM4","CNRM−CM5","CanCM4","EC−EARTH","FGOALS−g2","GFDL−CM2p1","HadCM3","IPSL−CM5A−LR","MIROC4h","MIROC5","MME","MPI−ESM−LR","MPI−ESM−MR","MRI−CGCM3"],"range":["#8B008B","#9370DB","#DA70D6","#0000CD","#1E90FF","#00CED1","#006400","#66CD00","#EEC900","#B8860B","#FFA500","#000000","#FFA07A","#EE3B3B","#8B2500"]}}},
   "layer":[{"mark":{"type":"line","strokeWidth":1.3}},{"transform":[{"filter":"datum.s==1"}],"mark":{"type":"point","filled":true,"size":90,"opacity":1}}]},
  {"width":296,"height":233,"title":"WAMI−Residuals CMIP5 vs SPI CRU","data":{"name":"d"},"transform":[{"filter":"datum.p=='c'"}],
   "encoding":{"x":{"field":"i","type":"ordinal","scale":{"type":"point","padding":0.6},"axis":{"title":"Forcast year","labelExpr":"['1−4','2−5','3−6','4−7','5−8','6−9','7−10'][datum.value-1]"}},
    "y":{"field":"v","type":"quantitative","scale":{"domain":[-1.1,1.1],"nice":false,"zero":false},"axis":{"title":"ACC","values":[-1,-0.5,0,0.5,1],"format":".1f"}},
    "color":{"field":"m","type":"nominal","legend":null,"scale":{"domain":["BCC−CSM1−1","CCSM4","CNRM−CM5","CanCM4","EC−EARTH","FGOALS−g2","GFDL−CM2p1","HadCM3","IPSL−CM5A−LR","MIROC4h","MIROC5","MME","MPI−ESM−LR","MPI−ESM−MR","MRI−CGCM3"],"range":["#8B008B","#9370DB","#DA70D6","#0000CD","#1E90FF","#00CED1","#006400","#66CD00","#EEC900","#B8860B","#FFA500","#000000","#FFA07A","#EE3B3B","#8B2500"]}}},
   "layer":[{"mark":{"type":"line","strokeWidth":1.3}},{"transform":[{"filter":"datum.s==1"}],"mark":{"type":"point","filled":true,"size":90,"opacity":1}}]}
 ],"spacing":27},
 {"hconcat":[
  {"width":296,"height":233,"title":"WAMI−Decadal CMIP5 vs SPI CRU","data":{"name":"d"},"transform":[{"filter":"datum.p=='d'"}],
   "encoding":{"x":{"field":"i","type":"ordinal","scale":{"type":"point","padding":0.6},"axis":{"title":"Forcast year","labelExpr":"['1−5','2−6','3−7','4−8','5−9','6−10','1−5'][datum.value-1]"}},
    "y":{"field":"v","type":"quantitative","scale":{"domain":[-0.064,1.664],"nice":false,"zero":false},"axis":{"title":"RMSE","values":[0,0.5,1,1.5],"format":".1f"}},
    "color":{"field":"m","type":"nominal","legend":null,"scale":{"domain":["BCC−CSM1−1","CCSM4","CNRM−CM5","CanCM4","EC−EARTH","FGOALS−g2","GFDL−CM2p1","HadCM3","IPSL−CM5A−LR","MIROC4h","MIROC5","MME","MPI−ESM−LR","MPI−ESM−MR","MRI−CGCM3"],"range":["#8B008B","#9370DB","#DA70D6","#0000CD","#1E90FF","#00CED1","#006400","#66CD00","#EEC900","#B8860B","#FFA500","#000000","#FFA07A","#EE3B3B","#8B2500"]}}},
   "layer":[{"mark":{"type":"line","strokeWidth":1.3}}]},
  {"width":296,"height":233,"title":"WAMI−Historical CMIP5 vs SPI CRU","data":{"name":"d"},"transform":[{"filter":"datum.p=='e'"}],
   "encoding":{"x":{"field":"i","type":"ordinal","scale":{"type":"point","padding":0.6},"axis":{"title":"Forcast year","labelExpr":"['1−4','2−5','3−6','4−7','5−8','6−9','7−10'][datum.value-1]"}},
    "y":{"field":"v","type":"quantitative","scale":{"domain":[-0.064,1.664],"nice":false,"zero":false},"axis":{"title":"RMSE","values":[0,0.5,1,1.5],"format":".1f"}},
    "color":{"field":"m","type":"nominal","legend":null,"scale":{"domain":["BCC−CSM1−1","CCSM4","CNRM−CM5","CanCM4","EC−EARTH","FGOALS−g2","GFDL−CM2p1","HadCM3","IPSL−CM5A−LR","MIROC4h","MIROC5","MME","MPI−ESM−LR","MPI−ESM−MR","MRI−CGCM3"],"range":["#8B008B","#9370DB","#DA70D6","#0000CD","#1E90FF","#00CED1","#006400","#66CD00","#EEC900","#B8860B","#FFA500","#000000","#FFA07A","#EE3B3B","#8B2500"]}}},
   "layer":[{"mark":{"type":"line","strokeWidth":1.3}}]},
  {"width":296,"height":233,"title":"WAMI−Residuals CMIP5 vs SPI CRU","data":{"name":"d"},"transform":[{"filter":"datum.p=='f'"}],
   "encoding":{"x":{"field":"i","type":"ordinal","scale":{"type":"point","padding":0.6},"axis":{"title":"Forcast year","labelExpr":"['1−4','2−5','3−6','4−7','5−8','6−9','7−10'][datum.value-1]"}},
    "y":{"field":"v","type":"quantitative","scale":{"domain":[-0.064,1.664],"nice":false,"zero":false},"axis":{"title":"RMSE","values":[0,0.5,1,1.5],"format":".1f"}},
    "color":{"field":"m","type":"nominal","legend":null,"scale":{"domain":["BCC−CSM1−1","CCSM4","CNRM−CM5","CanCM4","EC−EARTH","FGOALS−g2","GFDL−CM2p1","HadCM3","IPSL−CM5A−LR","MIROC4h","MIROC5","MME","MPI−ESM−LR","MPI−ESM−MR","MRI−CGCM3"],"range":["#8B008B","#9370DB","#DA70D6","#0000CD","#1E90FF","#00CED1","#006400","#66CD00","#EEC900","#B8860B","#FFA500","#000000","#FFA07A","#EE3B3B","#8B2500"]}}},
   "layer":[{"mark":{"type":"line","strokeWidth":1.3}}]}
 ],"spacing":27}
],"spacing":36},
{"width":135,"height":580,"view":{"stroke":null},"data":{"name":"leg"},
 "encoding":{"y":{"field":"m","type":"nominal","sort":null,"scale":{"range":[25,556],"paddingInner":0.06,"paddingOuter":0},"axis":null}},
 "layer":[
  {"mark":{"type":"rect","fill":"white","stroke":"#cccccc","strokeWidth":2},"encoding":{"x":{"datum":0,"type":"quantitative","scale":{"domain":[0,135],"nice":false,"zero":false},"axis":null},"x2":{"datum":36}}},
  {"mark":{"type":"rule","strokeWidth":1.5},"encoding":{"x":{"datum":4,"type":"quantitative"},"x2":{"datum":32},"y":{"field":"m","type":"nominal","sort":null,"bandPosition":0.5},
    "color":{"field":"m","type":"nominal","legend":null,"scale":{"domain":["BCC−CSM1−1","CCSM4","CNRM−CM5","CanCM4","EC−EARTH","FGOALS−g2","GFDL−CM2p1","HadCM3","IPSL−CM5A−LR","MIROC4h","MIROC5","MME","MPI−ESM−LR","MPI−ESM−MR","MRI−CGCM3"],"range":["#8B008B","#9370DB","#DA70D6","#0000CD","#1E90FF","#00CED1","#006400","#66CD00","#EEC900","#B8860B","#FFA500","#000000","#FFA07A","#EE3B3B","#8B2500"]}}}},
  {"mark":{"type":"point","filled":true,"size":110,"opacity":1},"encoding":{"x":{"datum":18,"type":"quantitative"},
    "color":{"field":"m","type":"nominal","legend":null,"scale":{"domain":["BCC−CSM1−1","CCSM4","CNRM−CM5","CanCM4","EC−EARTH","FGOALS−g2","GFDL−CM2p1","HadCM3","IPSL−CM5A−LR","MIROC4h","MIROC5","MME","MPI−ESM−LR","MPI−ESM−MR","MRI−CGCM3"],"range":["#8B008B","#9370DB","#DA70D6","#0000CD","#1E90FF","#00CED1","#006400","#66CD00","#EEC900","#B8860B","#FFA500","#000000","#FFA07A","#EE3B3B","#8B2500"]}}}},
  {"mark":{"type":"text","align":"left","baseline":"middle","fontSize":12.5,"color":"black"},"encoding":{"x":{"datum":41,"type":"quantitative"},"text":{"field":"m"}}}
 ]}
],"spacing":24
}
